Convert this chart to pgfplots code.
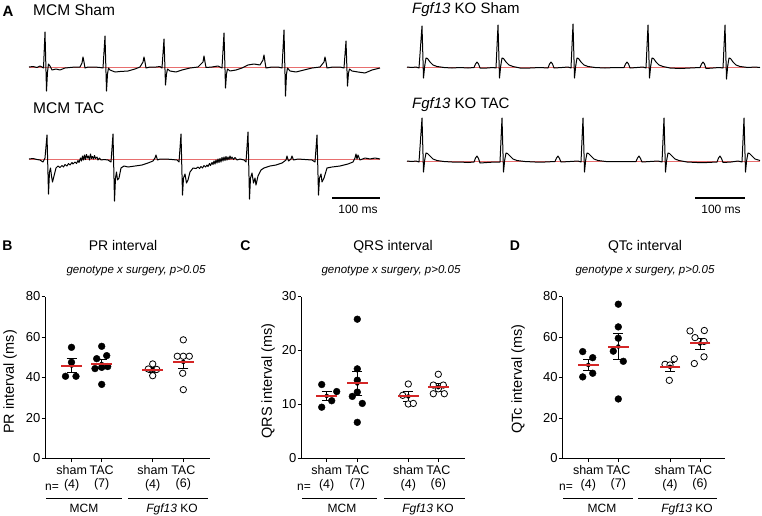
\documentclass[border=0pt]{standalone}
\usepackage{pgfplots}
\usepackage{pgfplotstable}
\pgfplotsset{compat=1.18}
\usepackage{fontspec}
\setmainfont{Liberation Sans}
\definecolor{meanred}{RGB}{212,38,38}
\definecolor{basered}{RGB}{232,110,110}
\newcommand{\fs}[1]{\fontsize{#1}{#1}\selectfont}

% ---- dot plot data (x = px from the left axis line) ----
\pgfplotstableread{
x y
26.5 54.9
26.5 47.5
20.5 40.6
31.0 40.6
56.7 55.4
51.7 49.3
61.7 50.8
50.0 44.4
56.7 45.0
62.7 45.4
56.7 36.6
}\prFilled
\pgfplotstableread{
x y
107.7 46.7
103.3 44.2
111.7 44.0
107.7 40.9
138.3 58.6
132.3 50.5
138.3 50.5
144.3 50.5
137.7 42.1
138.3 34.0
}\prOpen
\pgfplotstableread{
x m s
26.7 45.9 3.4
56.7 46.7 2.2
107.7 43.8 1.2
138.3 47.7 3.4
}\prMean

\pgfplotstableread{
x y
20.7 13.7
35.7 12.4
30.7 10.7
20.7 9.5
56.3 25.8
56.3 16.6
56.3 14.5
56.3 12.3
51.3 11.5
61.3 10.2
56.3 6.7
}\qrsFilled
\pgfplotstableread{
x y
107.3 13.8
101.7 11.7
107.3 10.1
112.3 10.2
137.3 15.6
132.3 13.6
142.3 13.6
137.3 12.9
132.3 12.0
143.3 12.0
}\qrsOpen
\pgfplotstableread{
x m s
25.7 11.6 0.9
56.3 13.9 2.3
107.3 11.5 0.9
137.3 13.2 0.7
}\qrsMean

\pgfplotstableread{
x y
20.4 52.8
30.4 49.8
30.4 42.1
20.4 40.3
56.0 76.2
56.0 65.0
56.0 59.4
51.0 53.0
61.0 48.0
56.0 29.4
}\qtFilled
\pgfplotstableread{
x y
102.7 46.5
112.0 49.2
107.7 46.2
107.0 38.6
127.7 63.0
142.0 63.2
132.7 59.7
141.7 57.8
141.7 50.2
132.0 46.9
}\qtOpen
\pgfplotstableread{
x m s
26.0 46.2 2.9
56.0 55.3 6.4
107.7 45.3 2.2
137.7 56.8 2.7
}\qtMean

\pgfplotsset{
  dotpanel/.style={
    scale only axis, height=162pt, ymin=0,
    axis lines*=left, clip=false,
    axis line style={line width=0.9pt},
    tick align=outside, major tick length=3.5pt,
    tick style={line width=0.9pt, black},
    xticklabels={sham\\(4), TAC\\(7), sham\\(4), TAC\\(6)},
    xticklabel style={align=center, font=\fontsize{12.5}{13.5}\selectfont},
    yticklabel style={font=\fs{13}, inner xsep=1pt},
    /pgf/number format/assume math mode=true,
  },
  filledpts/.style={only marks, mark=*, mark size=3.4pt, mark options={fill=black, draw=black}},
  openpts/.style={only marks, mark=*, mark size=3.2pt, mark options={fill=white, draw=black, line width=0.8pt}},
  sembars/.style={only marks, mark=none, black,
    error bars/.cd, y dir=both, y explicit,
    error bar style={line width=0.9pt, black},
    error mark options={rotate=90, mark size=5pt, line width=0.9pt, black}},
  meanline/.style={only marks, mark=-, mark size=10.3pt, meanred, mark options={line width=2pt}},
}

\begin{document}
\begin{tikzpicture}
\path[use as bounding box] (0,0) rectangle (762pt,515pt);

% ---------- panel A traces and all free text (pixel coordinates) ----------
\begin{axis}[at={(0pt,0pt)}, anchor=south west, scale only axis,
  width=762pt, height=515pt, xmin=0, xmax=762, ymin=0, ymax=515,
  y dir=reverse, hide axis, clip=false]

% baselines
\addplot[basered, line width=0.6pt] coordinates {(29,67) (380,67)};
\addplot[basered, line width=0.6pt] coordinates {(29,159) (380,159)};
\addplot[basered, line width=0.6pt] coordinates {(407,67) (760,67)};
\addplot[basered, line width=0.7pt] coordinates {(407,161) (760,161)};

% MCM Sham
\addplot[black, line width=1pt, line join=round] coordinates {
(29,67) (33,66.5) (37,67.5) (40,66) (42,67) (43.5,68) (45,32) (46.5,91) (47.5,72) (48.5,64)
(50,66) (52,70) (56,69) (60,70) (65,68) (70,67.5) (75,67) (80,67) (82,63) (83,57) (84,62)
(85,68) (88,67) (95,67) (100,67.5) (103,68) (105,36) (106.5,91) (107.5,74) (108.5,68)
(110,70) (115,72) (120,71.5) (128,71) (135,69) (140,67) (143,62) (144,57) (145,62) (146,68)
(150,67) (156,67) (160,66.5) (162,68) (164,39) (165.5,85) (166.5,74) (167.5,69) (170,71)
(176,72) (182,70) (190,68) (198,67) (203,62) (204,56) (205,62) (206,67.5) (212,67) (218,66)
(222,68) (224,33) (225.5,88) (226.5,74) (227.5,69) (230,71) (236,70) (242,68) (248,65)
(254,64) (260,65) (263,60) (264,55) (265,62) (266,68) (272,67) (278,67) (282,68) (284,30)
(285.5,96) (286.5,74) (287.5,68) (290,71) (296,72) (304,70) (312,68) (320,67) (324,62)
(325,57) (326,62) (327,68) (333,67) (340,67) (344,68) (346,41) (347.5,86) (348.5,73)
(349.5,69) (352,71) (358,72) (365,73) (372,70) (380,68)};

% MCM TAC
\addplot[black, line width=1pt, line join=round] coordinates {
(29,159) (33,158.5) (37,159.5) (40,160) (43,162) (45,158) (47,135) (48.5,194) (49.5,172)
(50.5,168) (51.5,176) (52.5,182) (54,176) (56,168) (58,166) (60,167.5) (62,165.5) (63.5,167)
(65,164.5) (67,166) (68.5,163.5) (70,165) (72,162.5) (73,164) (75,162) (76.5,163.5)
(78,160.5) (79,162.5) (80.5,158) (81.5,161) (82.5,156) (83.5,160) (84.5,155) (85.5,159.5)
(86.5,154.5) (87.5,158) (88.5,156) (89.5,160) (90.5,154) (91.5,158.5) (92.5,156.5)
(93.5,159) (94.5,155.5) (95.5,158.5) (97,157) (98,160) (99.5,158) (101,160) (104,159.5)
(108,160) (111,162) (113,134) (114.5,201) (115.5,178) (116.5,172) (117.5,180)
(119,178) (121,168) (124,166) (128,167) (135,166) (142,165) (148,163) (153,161) (155,158)
(156,155) (157.5,160) (160,159) (166,159) (172,159.5) (177,160) (179,162) (181,134)
(182.5,195) (183.5,178) (185,174) (186.5,183) (188,180) (190,172) (193,168) (196,168.5)
(198,167) (199.5,168.5) (201,166.5) (202.5,168) (204,165.5) (205.5,167) (207,165)
(208,166.5) (209.5,163.5) (210.5,165.5) (212,162.5) (213,164.5) (214,161) (215,164)
(216,160) (217,163) (218,159) (219,162.5) (220,158.5) (221,162) (222,157.5) (223,161)
(224,157) (225,160.5) (226,156.5) (227,160) (228,157) (229,159.5) (230,156) (231,159)
(232,157) (233.5,159.5) (235,157.5) (237,160) (240,159) (244,160)
(246,162) (248,132) (249.5,199) (250.5,178) (252,173) (253.5,183)
(255,178) (256,185) (258,176) (261,170) (264,168) (270,166) (276,165) (282,163) (286,160)
(287,156) (288.5,161) (291,159) (292,156) (293.5,160) (298,159) (305,159.5) (312,160)
(315,162) (317,135) (318.5,195) (319.5,178) (321,174) (322,182) (324,178) (327,168)
(332,167) (340,166) (348,164) (353,162) (355,158) (356,154) (357,159) (358,155) (360,160)
(365,158) (370,159) (375,158) (380,159)};

% Fgf13 KO Sham
\addplot[black, line width=1pt, line join=round] coordinates {
(407,67) (412,67.5) (416,67) (419,68) (422,26) (423.5,78) (424.7,66) (426,58) (427.5,58.5)
(430,62) (433,65) (437,66.5) (444,67.5) (452,68) (460,67.5) (468,68) (474,67.5) (475.5,64)
(477,62) (478.5,64) (480,68) (487,68) (493,67.5) (496,68) (498,25) (499.5,78) (500.7,66)
(502,58) (503.5,58.5) (506,62) (509,65) (513,66.5) (520,68) (530,68) (540,67.5) (548,68)
(549.5,64) (551,62) (552.5,64) (554,68) (562,67.5) (568,67) (571,68) (573,24) (574.5,78)
(575.7,66) (577,58) (578.5,58.5) (581,62) (584,65) (588,66.5) (595,67.5) (605,68)
(615,67.5) (624,67.5) (625.5,64) (627,62) (628.5,64) (630,68) (637,67.5) (643,67) (646,68)
(648,25) (649.5,78) (650.7,66) (652,58) (653.5,58.5) (656,62) (659,65) (663,66.5) (670,68)
(680,68.5) (690,68) (700,67.5) (701.5,64) (703,62) (704.5,64) (706,68.5) (713,68)
(719,67.5) (723,68) (725,25) (726.5,79) (727.7,66) (729,58) (730.5,58.5) (733,62) (736,65)
(740,66.5) (748,67.5) (755,67) (760,67.5)};

% Fgf13 KO TAC
\addplot[black, line width=1pt, line join=round] coordinates {
(407,161) (412,161.5) (416,161) (419,162) (422,118) (423.5,172) (424.7,160) (426,153)
(427.5,153.5) (430,156) (433,159) (437,160.5) (444,161.5) (452,162) (460,162) (468,162.5)
(474,162) (475.5,158) (477,156) (478.5,158.5) (480,163) (487,162.5) (495,162) (500,162)
(502,118) (503.5,172) (504.7,160) (506,153) (507.5,153.5) (510,156) (513,159) (517,160.5)
(525,161.5) (535,162) (545,162) (555,161.5) (556.5,158) (558,156) (559.5,158.5) (561,162)
(570,161.5) (578,161) (581,162) (583,118) (584.5,172) (585.7,160) (587,153) (588.5,153.5)
(591,156) (594,159) (598,160.5) (606,161.5) (616,161.5) (626,161.5) (636,161.5)
(637.5,158) (639,156) (640.5,158.5) (642,162) (650,161.5) (658,161) (662,162) (664,118)
(665.5,172) (666.7,160) (668,153) (669.5,153.5) (672,156) (675,159) (679,160.5) (687,162)
(697,162.5) (707,162.5) (717,162) (718.5,158) (720,156) (721.5,158.5) (723,162.5)
(731,162) (738,161) (742,162) (744,118) (745.5,172) (746.7,160) (748,153) (749.5,153.5)
(752,156) (755,159) (760,160.5)};

% scale bars
\addplot[black, line width=1.5pt] coordinates {(332,198) (380,198)};
\addplot[black, line width=1.5pt] coordinates {(695,198) (745,198)};
\node[font=\fs{12}, anchor=base] at (axis cs:358,213) {100 ms};
\node[font=\fs{12}, anchor=base] at (axis cs:721,213) {100 ms};

% panel A labels
\node[font=\bfseries\fs{15}, anchor=base] at (axis cs:8,16) {A};
\node[font=\fs{15.5}, anchor=base west, inner sep=0pt] at (axis cs:33,15) {MCM Sham};
\node[font=\fs{15.5}, anchor=base west, inner sep=0pt] at (axis cs:33,113) {MCM TAC};
\node[font=\fs{15}, anchor=base west, inner sep=0pt] at (axis cs:412,13.5) {\textit{Fgf13} KO Sham};
\node[font=\fs{15}, anchor=base west, inner sep=0pt] at (axis cs:412,108) {\textit{Fgf13} KO TAC};

% panel letters, titles, subtitles
\node[font=\bfseries\fs{14}, anchor=base] at (axis cs:7.5,250) {B};
\node[font=\bfseries\fs{14}, anchor=base] at (axis cs:245.5,250) {C};
\node[font=\bfseries\fs{14}, anchor=base] at (axis cs:515,250) {D};
\node[font=\fs{14}, anchor=base] at (axis cs:123,250) {PR interval};
\node[font=\fs{14}, anchor=base] at (axis cs:393,250) {QRS interval};
\node[font=\fs{14}, anchor=base] at (axis cs:645,250) {QTc interval};
\node[font=\itshape\fs{11.5}, anchor=base] at (axis cs:136,273) {genotype x surgery, p>0.05};
\node[font=\itshape\fs{11.5}, anchor=base] at (axis cs:391,273) {genotype x surgery, p>0.05};
\node[font=\itshape\fs{11.5}, anchor=base] at (axis cs:645,273) {genotype x surgery, p>0.05};

% y labels
\node[font=\fs{14.5}, rotate=90] at (axis cs:10,382) {PR interval (ms)};
\node[font=\fs{14.5}, rotate=90] at (axis cs:268,381) {QRS interval (ms)};
\node[font=\fs{14.5}, rotate=90] at (axis cs:518,379) {QTc interval (ms)};

% n= and group labels
\node[font=\fs{12}, anchor=base] at (axis cs:52,490) {n=};
\node[font=\fs{12}, anchor=base] at (axis cs:304,490) {n=};
\node[font=\fs{12}, anchor=base] at (axis cs:566,490) {n=};
\draw[line width=0.9pt] (axis cs:46,498.5) -- (axis cs:122,498.5);
\draw[line width=0.9pt] (axis cs:128,498.5) -- (axis cs:208,498.5);
\draw[line width=0.9pt] (axis cs:302,498.5) -- (axis cs:377,498.5);
\draw[line width=0.9pt] (axis cs:384,498.5) -- (axis cs:465,498.5);
\draw[line width=0.9pt] (axis cs:563,498.5) -- (axis cs:633,498.5);
\draw[line width=0.9pt] (axis cs:638,498.5) -- (axis cs:717,498.5);
\node[font=\fs{12}, anchor=base] at (axis cs:84,512) {MCM};
\node[font=\fs{12}, anchor=base] at (axis cs:172,512) {\textit{Fgf13} KO};
\node[font=\fs{12}, anchor=base] at (axis cs:342,512) {MCM};
\node[font=\fs{12}, anchor=base] at (axis cs:428,512) {\textit{Fgf13} KO};
\node[font=\fs{12}, anchor=base] at (axis cs:602,512) {MCM};
\node[font=\fs{12}, anchor=base] at (axis cs:687,512) {\textit{Fgf13} KO};
\end{axis}

% ---------- B: PR interval ----------
\begin{axis}[dotpanel, at={(45pt,56.5pt)}, anchor=south west,
  width=165pt, xmin=0, xmax=165, ymax=80, ytick={0,20,40,60,80},
  xtick={26.7,56.7,107.7,138.3}]
\addplot[filledpts] table[x=x, y=y] {\prFilled};
\addplot[openpts] table[x=x, y=y] {\prOpen};
\addplot[sembars] table[x=x, y=m, y error=s] {\prMean};
\addplot[meanline] table[x=x, y=m] {\prMean};
\end{axis}

% ---------- C: QRS interval ----------
\begin{axis}[dotpanel, at={(301pt,56.5pt)}, anchor=south west,
  width=164pt, xmin=0, xmax=164, ymax=30, ytick={0,10,20,30},
  xtick={25.7,56.3,107.3,137.3}]
\addplot[filledpts] table[x=x, y=y] {\qrsFilled};
\addplot[openpts] table[x=x, y=y] {\qrsOpen};
\addplot[sembars] table[x=x, y=m, y error=s] {\qrsMean};
\addplot[meanline] table[x=x, y=m] {\qrsMean};
\end{axis}

% ---------- D: QTc interval ----------
\begin{axis}[dotpanel, at={(562.3pt,56.5pt)}, anchor=south west,
  width=163pt, xmin=0, xmax=163, ymax=80, ytick={0,20,40,60,80},
  xtick={26,56,107.7,137.7}]
\addplot[filledpts] table[x=x, y=y] {\qtFilled};
\addplot[openpts] table[x=x, y=y] {\qtOpen};
\addplot[sembars] table[x=x, y=m, y error=s] {\qtMean};
\addplot[meanline] table[x=x, y=m] {\qtMean};
\end{axis}
\end{tikzpicture}
\end{document}
